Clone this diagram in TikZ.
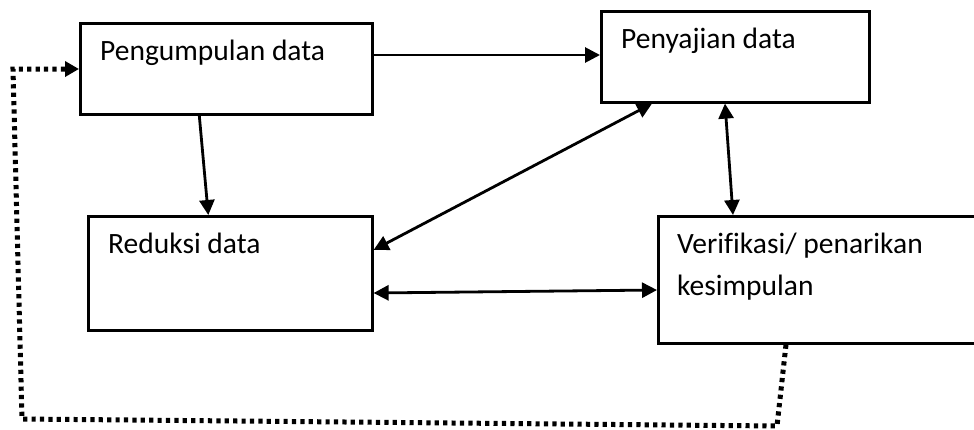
\documentclass[tikz,border=0pt]{standalone}
\usepackage{fontspec}
\setmainfont{Carlito}[Ligatures=CommonOff]
\usetikzlibrary{arrows.meta,calc}
\begin{document}
\begin{tikzpicture}[x=1pt,y=-1pt,
  box/.style={draw=black,line width=2.6pt,rectangle,inner sep=0pt,anchor=north west},
  txt/.style={inner sep=0pt,anchor=base west,font=\fontsize{29.5pt}{35pt}\selectfont},
  arr/.style={line width=2.8pt,-{Triangle[length=15pt,width=15pt]}},
  darr/.style={line width=2.8pt,{Triangle[length=15pt,width=15pt]}-{Triangle[length=15pt,width=15pt]}},
  dotline/.style={line width=5pt,dash pattern=on 4.2pt off 4.2pt,-{Triangle[length=14pt,width=15pt]}}]
\useasboundingbox (0,0) rectangle (974,429);
\fill[white] (0,0) rectangle (974,429);
% boxes
\node[box,minimum width=292pt,minimum height=91pt] (pg) at (79,22) {};
\node[box,minimum width=268pt,minimum height=91pt] (ps) at (600,10) {};
\node[box,minimum width=284pt,minimum height=114pt] (rd) at (87,215) {};
\node[box,minimum width=343pt,minimum height=127pt] (vf) at (657,215) {};
% texts
\node[txt] (tpg) at (100,60) {Pengumpulan data};
\node[txt] (tps) at (621,48) {Penyajian data};
\node[txt] (trd) at (108,253) {Reduksi data};
\node[txt] (tvf1) at (677,253) {Verifikasi/ penarikan};
\node[txt] (tvf2) at (677,295) {kesimpulan};
% connectors
\draw[arr] ([yshift=-33pt]pg.north east) -- ([yshift=-45pt]ps.north west);
\draw[arr] ([xshift=-27pt]pg.south) -- ([xshift=-22pt]rd.north);
\draw[darr] ([yshift=-35pt]rd.north east) -- ([xshift=52pt]ps.south west);
\draw[darr] ([xshift=125pt]ps.south west) -- ([xshift=76pt]vf.north west);
\draw[darr] ([yshift=-78pt]rd.north east) -- ([yshift=-75pt]vf.north west);
% feedback dotted loop
\coordinate (c1) at (777,426);
\coordinate (c2) at (22,419);
\coordinate (c3) at (13,69);
\draw[dotline] ([xshift=129pt]vf.south west) -- (c1) -- (c2) -- (c3) -- ([yshift=-47pt]pg.north west);
\end{tikzpicture}
\end{document}
